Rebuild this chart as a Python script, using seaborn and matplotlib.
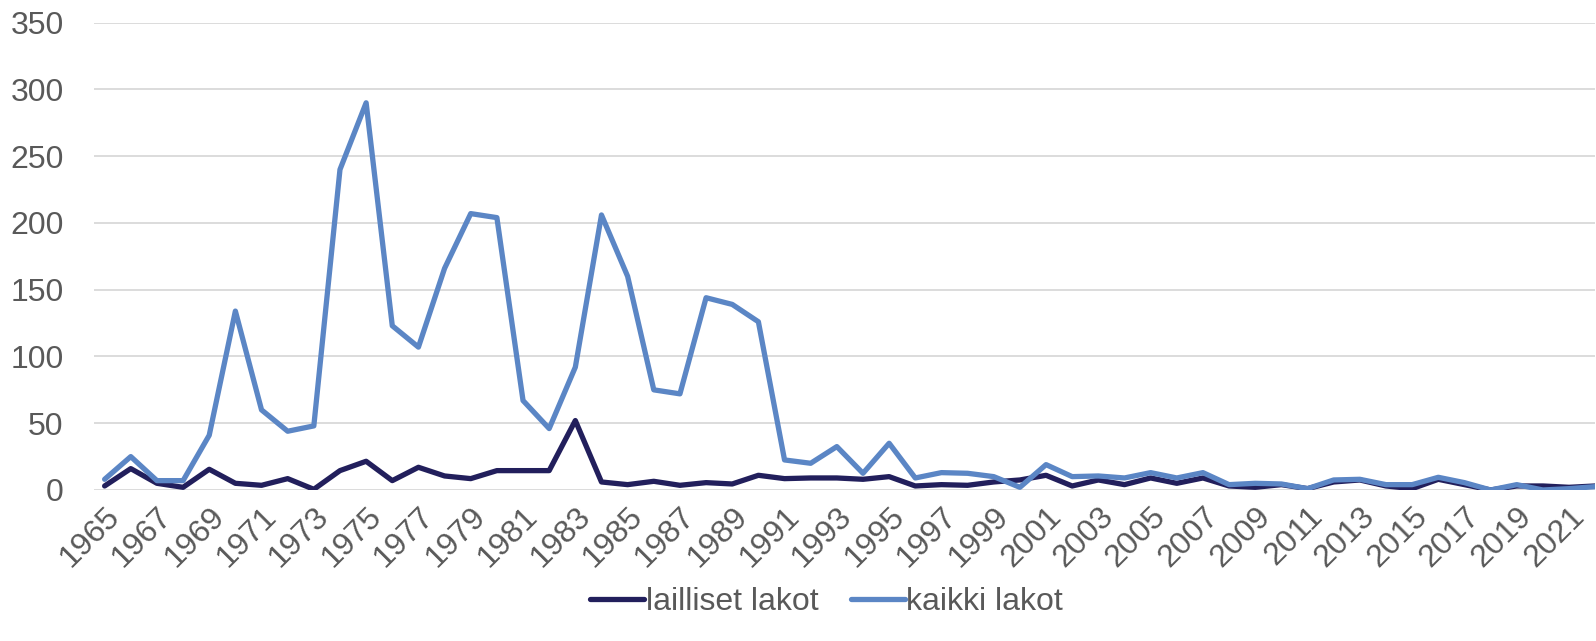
import numpy as np
import pandas as pd
import matplotlib
matplotlib.use("Agg")
import matplotlib.pyplot as plt
import seaborn as sns

years = list(range(1965, 2023))

# legal strikes
lailliset = [3, 16, 5, 2, 15.5, 5, 3.5, 8.5, 0.5, 14.5,
             21.5, 7, 17, 10.5, 8.5, 14.5, 14.5, 14.5, 52, 6,
             4, 6.5, 3.5, 5.5, 4.5, 11, 8.5, 9, 9, 8,
             10, 3, 4, 3.5, 6, 7.5, 11, 3, 7.5, 4,
             9, 5, 9, 3, 2, 4, 1, 6, 7.5, 3,
             1, 8, 4, 0, 3, 3, 2, 3]

# all strikes
kaikki = [8, 25, 7, 7, 41, 134, 60, 44, 48, 240,
          290, 123, 107, 166, 207, 204, 67, 46, 92, 206,
          160, 75, 72, 144, 139, 126, 22.5, 20, 32.5, 12.5,
          35, 9, 13, 12.5, 10, 2, 19, 10, 10.5, 9,
          13, 9, 13, 4, 5, 4.5, 1, 7.5, 8, 4,
          4, 9.5, 5.5, 0, 4, 0, 1, 2.5]

series_names = ["lailliset lakot", "kaikki lakot"]
colors = ["#221f5c", "#5b86c5"]

df = pd.DataFrame({
    "year": years * 2,
    "value": lailliset + kaikki,
    "series": [series_names[0]] * len(years) + [series_names[1]] * len(years),
})

sns.set_style("white")
plt.rcParams['font.family'] = ['Liberation Sans', 'DejaVu Sans']

fig = plt.figure(figsize=(15.96, 6.41), dpi=100)
ax = fig.add_axes([0.059, 0.2356, 0.9405, 0.729])

sns.lineplot(data=df, x="year", y="value", hue="series", palette=colors,
             linewidth=3.8, ax=ax, legend=True)

ax.set_xlim(1964.6, 2022.0)
ax.set_ylim(0, 350)
ax.set_yticks(np.arange(0, 351, 50))
ax.set_xticks(years[::2])
ax.set_xticklabels([str(y) for y in years[::2]], rotation=45, ha="right",
                   rotation_mode="anchor")
ax.tick_params(axis="both", length=0, labelsize=23, colors="#595959")
ax.tick_params(axis="x", pad=8)
ax.tick_params(axis="y", pad=22)
ax.grid(axis="y", color="#d9d9d9", linewidth=1.3)
ax.set_axisbelow(True)
for s in ax.spines.values():
    s.set_visible(False)
ax.set_xlabel("")
ax.set_ylabel("")

handles, labels = ax.get_legend_handles_labels()
ax.legend(handles, labels, loc="center", bbox_to_anchor=(0.488, -0.24),
          bbox_transform=ax.transAxes, ncol=2, frameon=False, fontsize=23,
          labelcolor="#595959", handlelength=1.7, handletextpad=0.05,
          columnspacing=1.0)

fig.savefig("out.png", dpi=100)
